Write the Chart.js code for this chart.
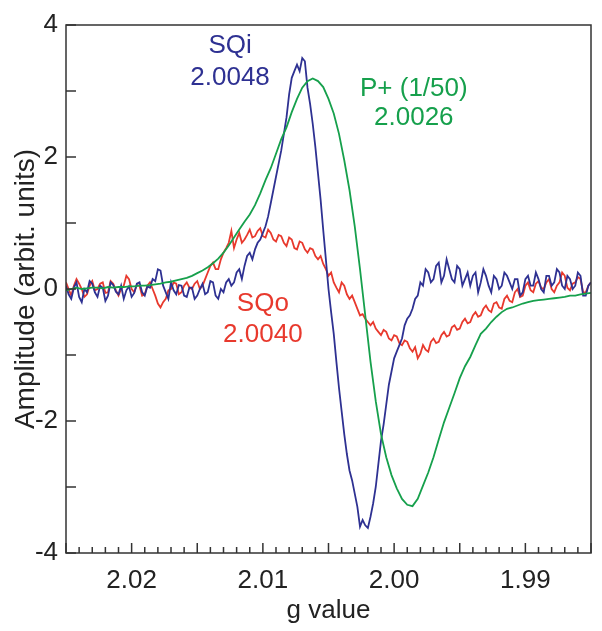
<!DOCTYPE html>
<html>
<head>
<meta charset="utf-8">
<script src="https://cdn.jsdelivr.net/npm/chart.js@4.4.1/dist/chart.umd.min.js"></script>
<style>
  html, body { margin: 0; padding: 0; background: #fff; }
  canvas { display: block; }
</style>
</head>
<body>
<canvas id="graf" width="602" height="631"></canvas>
<script>
// g values para a curva suave (eixo invertido, 2.025 -> 1.985)
const gValues = [
  2.0250, 2.0246, 2.0242, 2.0238, 2.0234, 2.0230, 2.0226, 2.0222, 2.0218, 2.0214,
  2.0210, 2.0206, 2.0202, 2.0198, 2.0194, 2.0190, 2.0186, 2.0182, 2.0178, 2.0174,
  2.0170, 2.0166, 2.0162, 2.0158, 2.0154, 2.0150, 2.0146, 2.0142, 2.0138, 2.0134,
  2.0130, 2.0126, 2.0122, 2.0118, 2.0114, 2.0110, 2.0106, 2.0102, 2.0098, 2.0094,
  2.0090, 2.0086, 2.0082, 2.0078, 2.0074, 2.0070, 2.0066, 2.0062, 2.0058, 2.0054,
  2.0050, 2.0046, 2.0042, 2.0038, 2.0034, 2.0030, 2.0026, 2.0022, 2.0018, 2.0014,
  2.0010, 2.0006, 2.0002, 1.9998, 1.9994, 1.9990, 1.9986, 1.9982, 1.9978, 1.9974,
  1.9970, 1.9966, 1.9962, 1.9958, 1.9954, 1.9950, 1.9946, 1.9942, 1.9938, 1.9934,
  1.9930, 1.9926, 1.9922, 1.9918, 1.9914, 1.9910, 1.9906, 1.9902, 1.9898, 1.9894,
  1.9890, 1.9886, 1.9882, 1.9878, 1.9874, 1.9870, 1.9866, 1.9862, 1.9858, 1.9854,
  1.9850
]

// g values mais finos para as curvas com ruído
const gFine = [
  2.0250, 2.0248, 2.0246, 2.0244, 2.0242, 2.0240, 2.0238, 2.0236, 2.0234, 2.0232,
  2.0230, 2.0228, 2.0226, 2.0224, 2.0222, 2.0220, 2.0218, 2.0216, 2.0214, 2.0212,
  2.0210, 2.0208, 2.0206, 2.0204, 2.0202, 2.0200, 2.0198, 2.0196, 2.0194, 2.0192,
  2.0190, 2.0188, 2.0186, 2.0184, 2.0182, 2.0180, 2.0178, 2.0176, 2.0174, 2.0172,
  2.0170, 2.0168, 2.0166, 2.0164, 2.0162, 2.0160, 2.0158, 2.0156, 2.0154, 2.0152,
  2.0150, 2.0148, 2.0146, 2.0144, 2.0142, 2.0140, 2.0138, 2.0136, 2.0134, 2.0132,
  2.0130, 2.0128, 2.0126, 2.0124, 2.0122, 2.0120, 2.0118, 2.0116, 2.0114, 2.0112,
  2.0110, 2.0108, 2.0106, 2.0104, 2.0102, 2.0100, 2.0098, 2.0096, 2.0094, 2.0092,
  2.0090, 2.0088, 2.0086, 2.0084, 2.0082, 2.0080, 2.0078, 2.0076, 2.0074, 2.0072,
  2.0070, 2.0068, 2.0066, 2.0064, 2.0062, 2.0060, 2.0058, 2.0056, 2.0054, 2.0052,
  2.0050, 2.0048, 2.0046, 2.0044, 2.0042, 2.0040, 2.0038, 2.0036, 2.0034, 2.0032,
  2.0030, 2.0028, 2.0026, 2.0024, 2.0022, 2.0020, 2.0018, 2.0016, 2.0014, 2.0012,
  2.0010, 2.0008, 2.0006, 2.0004, 2.0002, 2.0000, 1.9998, 1.9996, 1.9994, 1.9992,
  1.9990, 1.9988, 1.9986, 1.9984, 1.9982, 1.9980, 1.9978, 1.9976, 1.9974, 1.9972,
  1.9970, 1.9968, 1.9966, 1.9964, 1.9962, 1.9960, 1.9958, 1.9956, 1.9954, 1.9952,
  1.9950, 1.9948, 1.9946, 1.9944, 1.9942, 1.9940, 1.9938, 1.9936, 1.9934, 1.9932,
  1.9930, 1.9928, 1.9926, 1.9924, 1.9922, 1.9920, 1.9918, 1.9916, 1.9914, 1.9912,
  1.9910, 1.9908, 1.9906, 1.9904, 1.9902, 1.9900, 1.9898, 1.9896, 1.9894, 1.9892,
  1.9890, 1.9888, 1.9886, 1.9884, 1.9882, 1.9880, 1.9878, 1.9876, 1.9874, 1.9872,
  1.9870, 1.9868, 1.9866, 1.9864, 1.9862, 1.9860, 1.9858, 1.9856, 1.9854, 1.9852,
  1.9850
]

// SQi (azul), sobre gFine
const sqiValues = [
  0.05, -0.08, -0.15, 0.02, 0.10, -0.12, -0.20, 0.00, -0.05, 0.12,
  0.08, -0.05, -0.12, 0.05, 0.02, -0.18, -0.10, 0.10, 0.06, -0.04,
  -0.08, 0.05, -0.15, -0.02, 0.04, -0.12, -0.06, 0.08, 0.10, -0.05,
  -0.10, 0.04, 0.02, 0.15, 0.12, 0.30, 0.28, 0.05, -0.05, -0.15,
  0.10, -0.02, -0.08, 0.06, 0.05, -0.10, -0.12, 0.02, 0.02, -0.15,
  -0.10, 0.00, 0.08, -0.08, -0.05, 0.12, 0.10, -0.10, -0.15, 0.00,
  -0.05, 0.10, 0.15, 0.05, 0.10, 0.25, 0.30, 0.15, 0.35, 0.50,
  0.55, 0.45, 0.60, 0.70, 0.75, 0.85, 0.95, 1.10, 1.30, 1.50,
  1.70, 1.90, 2.10, 2.35, 2.60, 2.95, 3.20, 3.30, 3.40, 3.30,
  3.50, 3.45, 3.05, 2.80, 2.50, 2.15, 1.75, 1.35, 0.89, 0.45,
  0.00, -0.35, -0.68, -1.10, -1.50, -1.85, -2.20, -2.50, -2.75, -2.90,
  -3.10, -3.30, -3.60, -3.50, -3.58, -3.62, -3.45, -3.25, -3.00, -2.65,
  -2.30, -2.05, -1.75, -1.45, -1.25, -1.05, -0.95, -0.85, -0.75, -0.55,
  -0.45, -0.40, -0.30, -0.15, -0.10, 0.10, 0.05, 0.30, 0.25, 0.10,
  0.15, 0.35, 0.40, 0.10, 0.20, 0.45, 0.30, 0.15, 0.10, 0.35,
  0.30, 0.05, 0.15, 0.25, 0.05, 0.20, 0.25, -0.05, 0.10, 0.30,
  0.20, 0.05, -0.05, 0.20, 0.15, 0.00, 0.05, 0.25, 0.20, 0.10,
  0.00, 0.15, 0.15, -0.10, -0.05, 0.15, 0.20, 0.05, 0.05, 0.25,
  0.15, 0.00, -0.05, 0.20, 0.20, 0.05, 0.10, 0.30, 0.25, 0.05,
  0.00, 0.20, 0.15, 0.00, 0.05, 0.25, 0.20, -0.10, -0.10, 0.05,
  0.10
]

// SQo (vermelho), sobre gFine
const sqoValues = [
  0.10, 0.00, -0.10, 0.05, 0.15, 0.08, 0.00, -0.12, -0.08, 0.05,
  0.12, -0.02, 0.00, 0.08, 0.10, -0.06, -0.05, 0.12, 0.08, -0.02,
  -0.10, 0.00, 0.05, 0.20, 0.15, 0.00, -0.05, 0.06, 0.05, -0.10,
  -0.08, 0.05, 0.10, 0.00, -0.10, -0.22, -0.28, -0.20, -0.15, -0.02,
  0.00, 0.10, 0.08, -0.08, -0.05, 0.05, 0.10, 0.02, 0.00, 0.08,
  0.12, 0.00, 0.05, 0.15, 0.25, 0.35, 0.40, 0.30, 0.30, 0.45,
  0.55, 0.62, 0.70, 0.88, 0.62, 0.75, 0.85, 0.70, 0.75, 0.82,
  0.90, 0.78, 0.80, 0.88, 0.92, 0.80, 0.78, 0.90, 0.85, 0.75,
  0.72, 0.82, 0.80, 0.70, 0.65, 0.78, 0.75, 0.62, 0.60, 0.72,
  0.70, 0.60, 0.55, 0.62, 0.60, 0.50, 0.45, 0.50, 0.38, 0.30,
  0.20, 0.25, 0.10, 0.02, -0.05, 0.10, 0.05, -0.08, -0.15, -0.10,
  -0.20, -0.30, -0.40, -0.38, -0.45, -0.50, -0.55, -0.50, -0.60, -0.65,
  -0.70, -0.62, -0.65, -0.75, -0.78, -0.70, -0.72, -0.82, -0.85, -0.78,
  -0.80, -0.90, -0.95, -0.88, -1.05, -0.98, -0.85, -0.92, -0.95, -0.80,
  -0.75, -0.82, -0.80, -0.70, -0.65, -0.72, -0.70, -0.58, -0.55, -0.62,
  -0.60, -0.50, -0.45, -0.52, -0.50, -0.40, -0.35, -0.42, -0.40, -0.30,
  -0.25, -0.32, -0.35, -0.22, -0.20, -0.28, -0.30, -0.15, -0.10, -0.18,
  -0.20, -0.05, 0.00, -0.12, -0.10, 0.05, 0.10, -0.02, -0.05, 0.08,
  0.12, 0.02, 0.00, 0.10, 0.15, 0.00, -0.05, 0.05, 0.10, 0.25,
  0.20, 0.02, -0.02, 0.08, 0.10, 0.18, 0.15, -0.05, -0.05, 0.05,
  0.10
]

// P+ (verde, escala 1/50), sobre gValues
const pPlusValues = [
  -0.02, 0.00, 0.02, 0.00, 0.01, 0.02, 0.02, 0.01, 0.03, 0.02,
  0.03, 0.03, 0.04, 0.04, 0.05, 0.05, 0.06, 0.07, 0.08, 0.10,
  0.11, 0.13, 0.15, 0.17, 0.20, 0.24, 0.28, 0.33, 0.39, 0.46,
  0.55, 0.66, 0.78, 0.90, 1.02, 1.13, 1.27, 1.45, 1.65, 1.83,
  2.05, 2.27, 2.45, 2.68, 2.88, 3.05, 3.15, 3.19, 3.15, 3.06,
  2.88, 2.66, 2.35, 1.95, 1.50, 0.95, 0.30, -0.40, -1.10, -1.70,
  -2.20, -2.55, -2.82, -3.02, -3.18, -3.27, -3.29, -3.18, -2.98, -2.78,
  -2.55, -2.28, -2.02, -1.80, -1.58, -1.35, -1.17, -1.03, -0.85, -0.68,
  -0.60, -0.50, -0.42, -0.35, -0.30, -0.28, -0.25, -0.22, -0.20, -0.18,
  -0.17, -0.16, -0.15, -0.14, -0.13, -0.12, -0.10, -0.10, -0.08, -0.07,
  -0.06
]

const xTickValues = [2.02, 2.01, 2.00, 1.99]

// Texto dentro do gráfico (posição em unidades de dados)
const notes = [
  { text: 'SQi', g: 2.0125, y: 3.68, color: '#2e3192' },
  { text: '2.0048', g: 2.0125, y: 3.20, color: '#2e3192' },
  { text: 'P+ (1/50)', g: 1.9985, y: 3.04, color: '#16a04c' },
  { text: '2.0026', g: 1.9985, y: 2.59, color: '#16a04c' },
  { text: 'SQo', g: 2.0100, y: -0.22, color: '#e8392d' },
  { text: '2.0040', g: 2.0100, y: -0.69, color: '#e8392d' }
]

const pts = (xs, arr) => xs.map((g, i) => ({ x: g, y: arr[i] }))

// moldura + ticks para dentro + textos
const frameTicks = {
  id: 'frameTicks',
  afterDatasetsDraw(chart) {
    const { ctx, chartArea: a, scales: { x, y } } = chart
    ctx.save()
    ctx.strokeStyle = '#333'
    ctx.lineWidth = 1.5
    ctx.strokeRect(a.left, a.top, a.right - a.left, a.bottom - a.top)
    ctx.beginPath()
    for (let k = 0; k <= 40; k++) {
      const px = x.getPixelForValue(1.985 + k * 0.001)
      const len = k % 5 === 0 ? 10 : 6
      ctx.moveTo(px, a.bottom)
      ctx.lineTo(px, a.bottom - len)
    }
    for (let v = -4; v <= 4; v++) {
      const py = y.getPixelForValue(v)
      ctx.moveTo(a.left, py)
      ctx.lineTo(a.left + 10, py)
    }
    ctx.stroke()

    ctx.font = '26px "Liberation Sans", Arial, sans-serif'
    ctx.textAlign = 'center'
    ctx.textBaseline = 'middle'
    notes.forEach(n => {
      ctx.fillStyle = n.color
      ctx.fillText(n.text, x.getPixelForValue(n.g), y.getPixelForValue(n.y))
    })
    ctx.restore()
  }
}

const ctx = document.getElementById('graf').getContext('2d')

const grafic = new Chart(ctx, {
  type: 'line',
  data: {
    datasets: [
      { label: 'P+ (1/50)', data: pts(gValues, pPlusValues), borderColor: '#16a04c' },
      { label: 'SQi', data: pts(gFine, sqiValues), borderColor: '#2e3192' },
      { label: 'SQo', data: pts(gFine, sqoValues), borderColor: '#e8392d' }
    ]
  },
  options: {
    responsive: false,
    animation: false,
    events: [],
    layout: { padding: { top: 25, right: 11, bottom: 0, left: 0 } },
    elements: {
      line: { borderWidth: 1.8, tension: 0 },
      point: { radius: 0 }
    },
    plugins: {
      legend: { display: false },
      tooltip: { enabled: false }
    },
    scales: {
      x: {
        type: 'linear',
        reverse: true,
        min: 1.985,
        max: 2.025,
        grid: { display: false, drawTicks: false },
        border: { display: false },
        afterBuildTicks: s => { s.ticks = xTickValues.map(v => ({ value: v })) },
        afterFit: s => { s.height = 78 },
        ticks: {
          padding: 12,
          color: '#222',
          font: { size: 26, family: '"Liberation Sans", Arial, sans-serif' },
          callback: v => v.toFixed(2)
        },
        title: {
          display: true,
          text: 'g value',
          color: '#222',
          padding: { top: 0, bottom: 5 },
          font: { size: 26, family: '"Liberation Sans", Arial, sans-serif' }
        }
      },
      y: {
        min: -4,
        max: 4,
        grid: { display: false, drawTicks: false },
        border: { display: false },
        afterFit: s => { s.width = 66 },
        ticks: {
          stepSize: 2,
          padding: 8,
          color: '#222',
          font: { size: 26, family: '"Liberation Sans", Arial, sans-serif' },
          callback: v => String(v)
        },
        title: {
          display: true,
          text: 'Amplitude (arbit. units)',
          color: '#222',
          padding: { top: 9, bottom: 0 },
          font: { size: 28, family: '"Liberation Sans", Arial, sans-serif' }
        }
      }
    }
  },
  plugins: [frameTicks]
})
</script>
</body>
</html>
